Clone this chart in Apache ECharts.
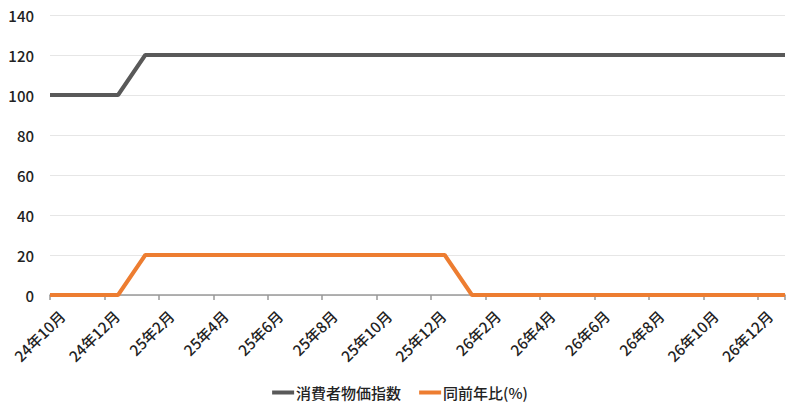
<!DOCTYPE html>
<html><head><meta charset="utf-8">
<script src="https://cdn.jsdelivr.net/npm/echarts@6/dist/echarts.min.js"></script>
<style>html,body{margin:0;padding:0;background:#fff}#c{width:800px;height:413px}</style>
</head><body><div id="c"></div>
<script>
// x in months since 24年10月
var tickLabels = ['24年10月','24年12月','25年2月','25年4月','25年6月','25年8月','25年10月','25年12月','26年2月','26年4月','26年6月','26年8月','26年10月','26年12月'];
var tickMonths = [0,2,4,6,8,10,12,14,16,18,20,22,24,26];
var seriesNames = ['消費者物価指数','同前年比(%)'];
var cpiMonths = [0, 2.5, 3.5, 27];
var cpiValues = [100, 100, 120, 120];
var yoyMonths = [0, 2.5, 3.5, 14.5, 15.5, 27];
var yoyValues = [0, 0, 20, 20, 0, 0];

function pairs(xs, ys){ return xs.map(function(x,i){ return [x, ys[i]]; }); }
var FONT = '"Noto Sans CJK JP", "Noto Sans", sans-serif';
var chart = echarts.init(document.getElementById('c'), null, {renderer: 'svg'});
chart.setOption({
  animation: false,
  textStyle: {fontFamily: FONT},
  grid: {left: 50, right: 15, top: 15, bottom: 118, containLabel: false},
  legend: {
    bottom: 8, left: 'center', icon: 'rect', itemWidth: 22, itemHeight: 4, itemGap: 18,
    textStyle: {fontFamily: FONT, fontSize: 15, color: '#222', fontWeight: 500, padding: [0,0,0,-3]},
    data: seriesNames
  },
  xAxis: {
    type: 'value', min: 0, max: 27, interval: 2,
    splitLine: {show: false},
    axisLine: {show: true, lineStyle: {color: '#999', width: 1.5}},
    axisTick: {show: true, length: 5, lineStyle: {color: '#999', width: 1.5}},
    axisLabel: {show: false}
  },
  yAxis: {
    type: 'value', min: 0, max: 140, interval: 20,
    axisLine: {show: false}, axisTick: {show: false},
    splitLine: {lineStyle: {color: '#e6e6e6', width: 1}},
    axisLabel: {fontFamily: FONT, fontSize: 15, color: '#222', fontWeight: 500, margin: 16}
  },
  series: [
    {name: seriesNames[0], type: 'line', data: pairs(cpiMonths, cpiValues), showSymbol: false, symbol: 'none',
     lineStyle: {color: '#595959', width: 4}, itemStyle: {color: '#595959'}},
    {name: seriesNames[1], type: 'line', data: pairs(yoyMonths, yoyValues), showSymbol: false, symbol: 'none',
     lineStyle: {color: '#ED7D31', width: 4}, itemStyle: {color: '#ED7D31'}}
  ]
});
// rotated x-axis labels placed through the axis scale
var labelEls = tickMonths.map(function(m, i){
  var p = chart.convertToPixel({gridIndex: 0}, [m, 0]);
  return {
    type: 'text', x: p[0] + 12, y: p[1] + 18, rotation: Math.PI / 4, silent: true,
    style: {text: tickLabels[i], align: 'right', verticalAlign: 'middle',
            font: '500 15px ' + FONT, fill: '#222'}
  };
});
chart.setOption({graphic: {elements: labelEls}});
</script></body></html>
